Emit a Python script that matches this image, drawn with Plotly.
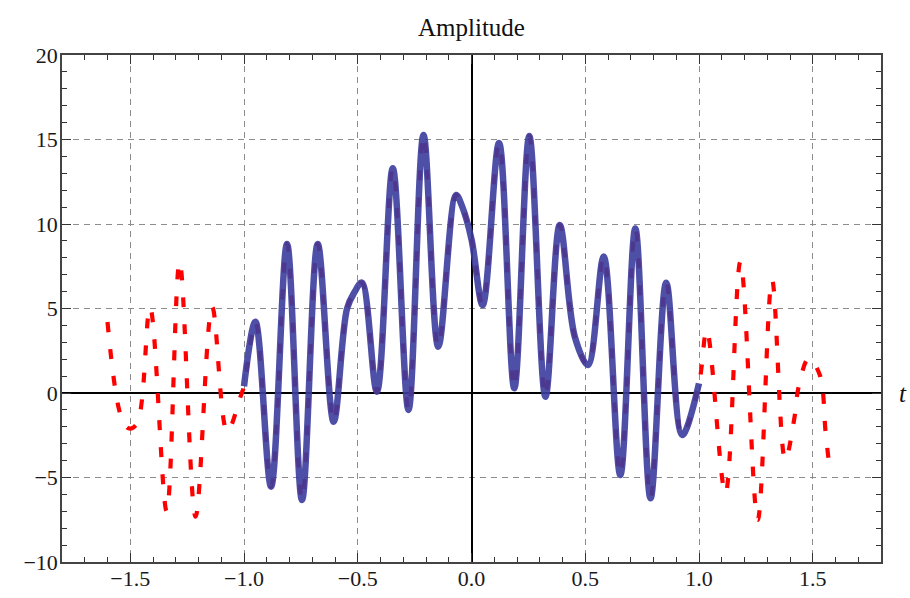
import plotly.graph_objects as go

# Solid blue curve on [-1, 1] (extrema and shoulder points)
blue_t = [-1.0, -0.950, -0.881, -0.811, -0.745, -0.676, -0.606, -0.547, -0.515, -0.482,
          -0.416, -0.346, -0.277, -0.211, -0.146, -0.068, -0.04, 0.0, 0.049, 0.121,
          0.188, 0.254, 0.325, 0.388, 0.454, 0.512, 0.581, 0.654, 0.720, 0.787,
          0.856, 0.926, 1.0]
blue_y = [0.4, 4.22, -5.54, 8.82, -6.33, 8.82, -1.70, 5.0, 5.95, 6.53,
          0.08, 13.3, -1.0, 15.27, 2.74, 11.72, 11.0, 9.1, 5.2, 14.8,
          0.28, 15.2, -0.22, 9.94, 3.33, 1.66, 8.07, -4.85, 9.74, -6.23,
          6.53, -2.49, 0.57]

# Red dashed curve outside [-1, 1]
red_left_t = [-1.6, -1.54, -1.505, -1.47, -1.413, -1.34, -1.283, -1.213, -1.14, -1.074, -1.015]
red_left_y = [4.2, -1.4, -2.1, -1.8, 5.07, -7.0, 7.77, -7.32, 5.1, -2.29, -0.2]
red_right_t = [1.034, 1.116, 1.182, 1.258, 1.321, 1.379, 1.419, 1.438, 1.482, 1.531, 1.558, 1.58, 1.6]
red_right_y = [3.73, -5.94, 7.77, -7.51, 6.69, -3.96, -1.5, 0.37, 2.05, 1.07, -2.49, -4.26, -4.1]

red_t = red_left_t + blue_t + red_right_t
red_y = red_left_y + blue_y + red_right_y

x_ticks = [-1.5, -1.0, -0.5, 0.0, 0.5, 1.0, 1.5]
y_ticks = [-10, -5, 0, 5, 10, 15, 20]

serif = "Liberation Serif, Times New Roman, serif"

fig = go.Figure()
fig.add_trace(go.Scatter(x=red_t, y=red_y, mode="lines",
                         line=dict(color="#ff0000", width=4.2, dash="10px,17px", shape="spline", smoothing=1.0),
                         showlegend=False, hoverinfo="skip"))
fig.add_trace(go.Scatter(x=blue_t, y=blue_y, mode="lines",
                         line=dict(color="#3b3d9e", width=6.5, shape="spline", smoothing=1.0),
                         opacity=0.9, showlegend=False, hoverinfo="skip"))

axis_common = dict(
    showline=True, linecolor="#444444", linewidth=1.6, mirror="ticks",
    ticks="inside", ticklen=9, tickwidth=1.3, tickcolor="#333333",
    showgrid=True, gridcolor="#8c8c8c", gridwidth=1, griddash="6px,5px",
    zeroline=True, zerolinecolor="#000000", zerolinewidth=1.6,
    tickfont=dict(family=serif, size=22, color="#1a1a1a"),
    automargin=False,
)

fig.update_layout(
    width=910, height=598,
    margin=dict(l=62, r=29, t=55, b=36),
    paper_bgcolor="white", plot_bgcolor="white",
    title=dict(text="Amplitude", x=0.5, xref="paper", xanchor="center",
               y=1 - 27 / 598, yanchor="middle",
               font=dict(family=serif, size=25, color="#111111")),
    xaxis=dict(range=[-1.8, 1.8], tickvals=x_ticks, tickformat=".1f",
               minor=dict(ticks="inside", ticklen=5, dtick=0.1, tick0=0, tickcolor="#333333", showgrid=False),
               ticklabelstandoff=-4, **axis_common),
    yaxis=dict(range=[-10, 20], tickvals=y_ticks,
               minor=dict(ticks="inside", ticklen=5, dtick=1, tick0=0, tickcolor="#333333", showgrid=False),
               ticklabelstandoff=-2, **axis_common),
    annotations=[dict(text="<i>t</i>", xref="paper", x=(903 - 62) / 819, yref="y", y=0,
                      xanchor="center", yanchor="middle", showarrow=False,
                      font=dict(family=serif, size=25, color="#111111"))],
)

fig.write_html("out.html")
